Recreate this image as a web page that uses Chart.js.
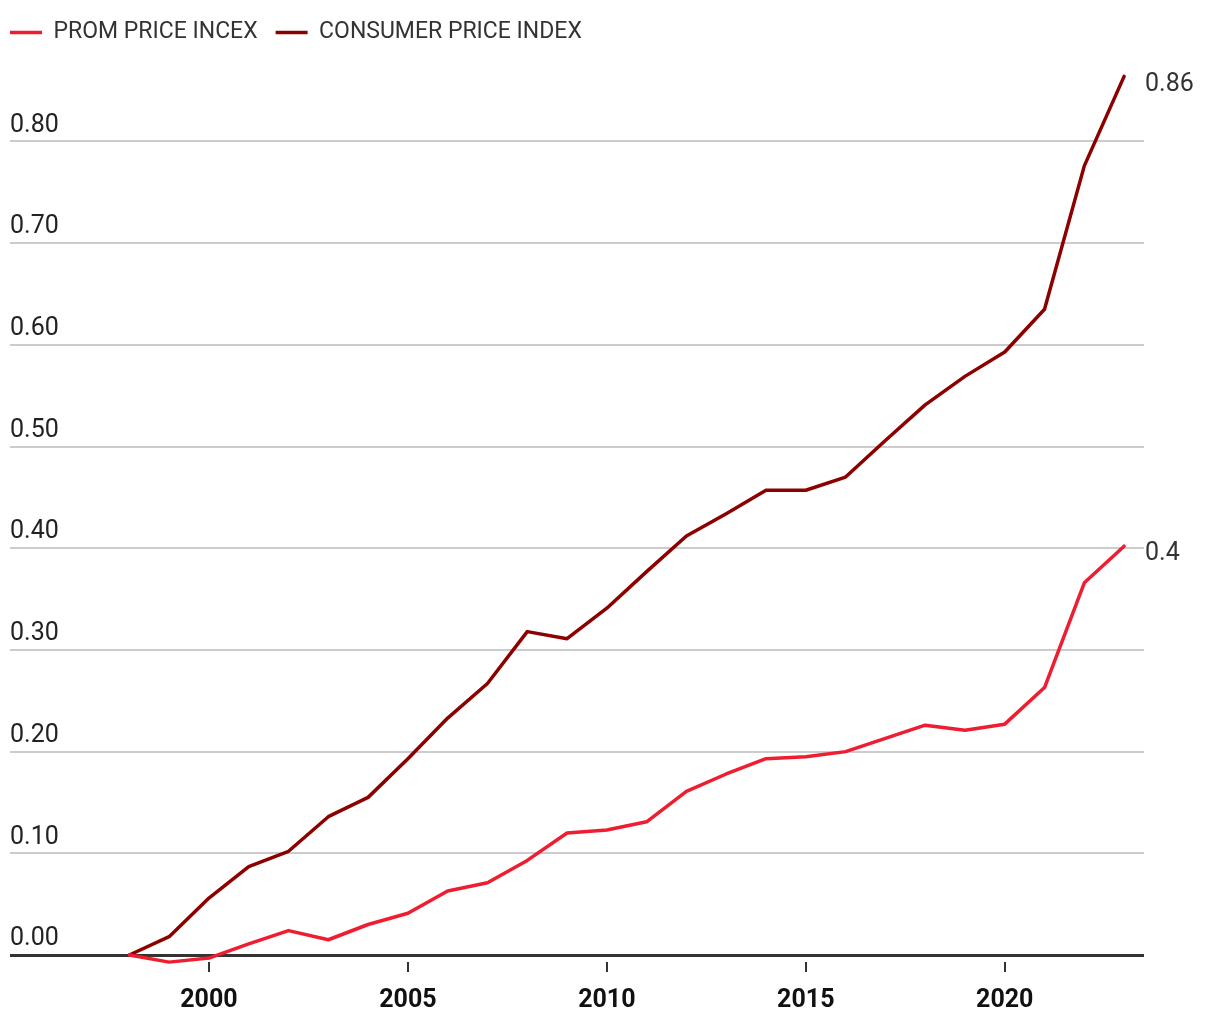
<!DOCTYPE html>
<html>
<head>
<meta charset="utf-8">
<script src="https://cdn.jsdelivr.net/npm/chart.js@4.4.1/dist/chart.umd.min.js"></script>
<style>
  body { margin: 0; background: #fff; }
  #wrap { width: 1220px; height: 1020px; }
</style>
</head>
<body>
<div id="wrap"><canvas id="chart_canvas"></canvas></div>
<script>
// values
const years = [1998, 1999, 2000, 2001, 2002, 2003, 2004, 2005, 2006, 2007, 2008, 2009, 2010,
  2011, 2012, 2013, 2014, 2015, 2016, 2017, 2018, 2019, 2020, 2021, 2022, 2023];
const promPrice = [0, -0.007, -0.003, 0.011, 0.024, 0.015, 0.030, 0.041, 0.063, 0.071, 0.093, 0.120, 0.123,
  0.131, 0.161, 0.178, 0.193, 0.195, 0.200, 0.213, 0.226, 0.221, 0.227, 0.263, 0.366, 0.402];
const consumerPrice = [0, 0.018, 0.056, 0.087, 0.102, 0.136, 0.155, 0.193, 0.233, 0.267, 0.318, 0.311, 0.341,
  0.377, 0.412, 0.434, 0.457, 0.457, 0.470, 0.506, 0.541, 0.569, 0.593, 0.635, 0.776, 0.864];
const seriesNames = ['PROM PRICE INCEX', 'CONSUMER PRICE INDEX'];
const endLabels = ['0.4', '0.86'];
const xTicks = [2000, 2005, 2010, 2015, 2020];

const toPoints = (vals) => vals.map((v, i) => ({ x: years[i], y: v }));

// value label at the end of each line
const endLabelPlugin = {
  id: 'endLabels',
  afterDatasetsDraw(chart) {
    const c = chart.ctx;
    c.save();
    c.font = '25px Roboto';
    c.fillStyle = '#333';
    c.textAlign = 'left';
    c.textBaseline = 'middle';
    chart.data.datasets.forEach((ds, i) => {
      const pts = chart.getDatasetMeta(i).data;
      const last = pts[pts.length - 1];
      c.fillText(endLabels[i], chart.chartArea.right + 1, last.y + 8);
    });
    c.restore();
  }
};

let ctx = document.getElementById('chart_canvas');
let chart = new Chart(ctx, { // eslint-disable-line no-unused-vars
  type: 'line',
  data: {
    datasets: [{
      label: seriesNames[0],
      data: toPoints(promPrice),
      borderColor: '#EE1D2F',
      backgroundColor: '#EE1D2F',
      borderWidth: 3.5,
      borderCapStyle: 'round',
      borderJoinStyle: 'round',
      pointRadius: 0,
      clip: false
    }, {
      label: seriesNames[1],
      data: toPoints(consumerPrice),
      borderColor: '#8C0000',
      backgroundColor: '#8C0000',
      borderWidth: 3.5,
      borderCapStyle: 'round',
      borderJoinStyle: 'round',
      pointRadius: 0,
      clip: false
    }]
  },
  options: {
    responsive: true,
    maintainAspectRatio: false,
    animation: false,
    devicePixelRatio: 1,
    layout: { padding: { left: -8, right: 76, top: 3, bottom: 0 } },
    plugins: {
      tooltip: { enabled: false },
      legend: {
        position: 'top',
        align: 'start',
        labels: {
          usePointStyle: true,
          pointStyle: 'line',
          pointStyleWidth: 32,
          padding: 18,
          color: '#333',
          font: { family: 'Roboto', size: 23 }
        }
      }
    },
    scales: {
      x: {
        type: 'linear',
        min: 1995,
        max: 2023.5,
        afterFit(scale) { scale.height = 65; },
        afterBuildTicks(scale) { scale.ticks = xTicks.map(v => ({ value: v })); },
        border: { display: false },
        grid: {
          drawOnChartArea: false,
          color: '#333',
          lineWidth: 2,
          tickLength: 17,
          tickBorderDash: [0, 7, 10, 40]
        },
        ticks: {
          padding: 14,
          color: '#111',
          font: { family: 'Roboto', size: 25, weight: 'bold' },
          callback: (v) => String(v)
        }
      },
      y: {
        min: 0,
        max: 0.886,
        afterFit(scale) { scale.width = 18; },
        border: { display: false },
        grid: {
          drawTicks: false,
          tickLength: 0,
          color: (c) => c.tick && c.tick.value === 0 ? '#333' : '#cccccc',
          lineWidth: (c) => c.tick && c.tick.value === 0 ? 3 : 2
        },
        ticks: {
          stepSize: 0.1,
          includeBounds: false,
          mirror: true,
          padding: 0,
          labelOffset: -16,
          color: '#222',
          font: { family: 'Roboto', size: 25 },
          callback: (v) => v.toFixed(2)
        }
      }
    }
  },
  plugins: [endLabelPlugin]
});
</script>
</body>
</html>
